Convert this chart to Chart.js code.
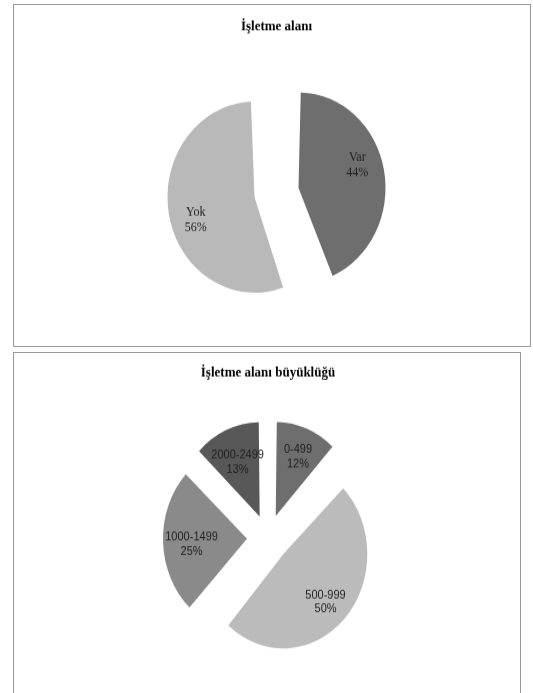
<!DOCTYPE html>
<html><head><meta charset="utf-8">
<script src="https://cdn.jsdelivr.net/npm/chart.js@4"></script>
<style>
html,body{margin:0;padding:0;background:#fff;width:533px;height:693px;overflow:hidden;}
.panel{position:absolute;box-sizing:border-box;border:1px solid #999;background:#fff;overflow:hidden;}
#p1{left:13px;top:4px;width:518px;height:343px;}
#p2{left:13px;top:352px;width:508px;height:400px;}
canvas{position:absolute;left:0;top:0;transform-origin:0 0;}
</style></head><body>
<div class="panel" id="p1"><canvas id="c1" width="516" height="300"></canvas></div>
<div class="panel" id="p2"><canvas id="c2" width="506" height="300"></canvas></div>
<script>
// ---- data ----
const title1 = 'İşletme alanı';
const categories1 = ['Var', 'Yok'];
const values1 = [44, 56];
const colors1 = ['#6e6e6e', '#b9b9b9'];

const title2 = 'İşletme alanı büyüklüğü';
const categories2 = ['0-499', '500-999', '1000-1499', '2000-2499'];
const values2 = [12, 50, 25, 13];
const colors2 = ['#6e6e6e', '#bbbbbb', '#8a8a8a', '#585858'];

const OFFSET_DIV = 4; // Chart.js v4 arc translates by offset/4

const sliceLabels = {
  id: 'sliceLabels',
  afterDatasetUpdate(chart, args, o) {
    const meta = chart.getDatasetMeta(args.index);
    meta.data.forEach(arc => {
      const c = arc.endAngle - arc.startAngle;
      const fix = 1 - Math.sin(Math.min(Math.PI, c));
      arc.outerRadius = o.radius - o.shift * fix;
    });
  },
  afterDatasetsDraw(chart, args, o) {
    const meta = chart.getDatasetMeta(0);
    const ctx = chart.ctx;
    const vals = chart.data.datasets[0].data;
    ctx.save();
    ctx.font = o.font;
    ctx.fillStyle = o.color;
    ctx.textAlign = 'center';
    ctx.textBaseline = 'middle';
    const bias = o.bias * Math.PI / 180;
    meta.data.forEach((arc, i) => {
      const l1 = chart.data.labels[i];
      const l2 = vals[i] + '%';
      const w = Math.max(ctx.measureText(l1).width, ctx.measureText(l2).width);
      const dist = o.distBase - o.distPerWidth * w;
      const half = (arc.startAngle + arc.endAngle) / 2;
      const x = arc.x + Math.cos(half) * o.shift + Math.cos(half + bias) * dist;
      const y = arc.y + Math.sin(half) * o.shift + Math.sin(half + bias) * dist + o.dy;
      ctx.fillText(l1, x, y - o.lineGap / 2);
      ctx.fillText(l2, x, y + o.lineGap / 2);
    });
    ctx.restore();
  }
};

function makePie(id, scaleY, title, labels, values, colors, cfg) {
  const cv = document.getElementById(id);
  cv.style.transform = 'scaleY(' + scaleY + ')';
  return new Chart(cv, {
    type: 'pie',
    data: {
      labels: labels,
      datasets: [{
        data: values,
        backgroundColor: colors,
        borderWidth: 0,
        offset: cfg.shift * OFFSET_DIV,
        hoverOffset: 0
      }]
    },
    options: {
      responsive: false,
      animation: false,
      events: [],
      radius: cfg.radius,
      layout: { padding: { left: cfg.padLeft, right: 0, top: 0, bottom: 0 } },
      plugins: {
        legend: { display: false },
        tooltip: { enabled: false },
        title: {
          display: true,
          text: title,
          color: '#000',
          font: { family: 'Liberation Serif', size: 13, weight: 'bold' },
          padding: { top: cfg.tTop, bottom: cfg.tBottom }
        },
        sliceLabels: {
          radius: cfg.radius,
          shift: cfg.shift,
          distBase: cfg.distBase,
          distPerWidth: cfg.distPerWidth,
          bias: cfg.bias,
          dy: cfg.dy,
          font: cfg.font,
          color: '#222',
          lineGap: cfg.lineGap
        }
      }
    },
    plugins: [sliceLabels]
  });
}

makePie('c1', 1.098, title1, categories1, values1, colors1, {
  radius: 87, shift: 22.4, distBase: 62.3, distPerWidth: 0, bias: -8.5, dy: 0,
  padLeft: 9, tTop: 12.0, tBottom: 14.0,
  font: '12px "Liberation Serif"', lineGap: 13.7
});
makePie('c2', 1.122, title2, categories2, values2, colors2, {
  radius: 84, shift: 21, distBase: 66, distPerWidth: 0.2, bias: 0, dy: 3,
  padLeft: 2, tTop: 10.3, tBottom: 3.9,
  font: '11px "Liberation Sans"', lineGap: 12.6
});
</script>
</body></html>
